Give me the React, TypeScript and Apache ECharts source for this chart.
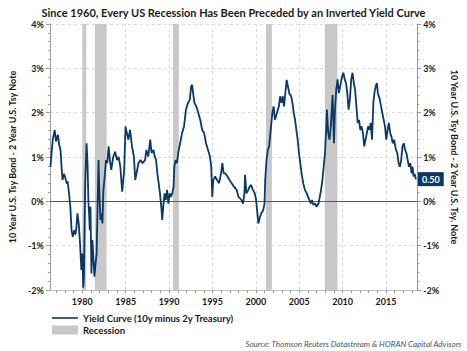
import React, { useEffect, useRef } from 'react';
import * as echarts from 'echarts';

const FONT = 'Lato, "Open Sans", sans-serif';
const NAVY = '#0c3868';

const sampleYears = [
  1976.33, 1976.59, 1976.82, 1976.97, 1977.19, 1977.34, 1977.49, 1977.6, 1977.72, 1977.87,
  1978.02, 1978.2, 1978.31, 1978.47, 1978.62, 1978.76, 1978.91, 1979.06, 1979.21, 1979.33,
  1979.44, 1979.59, 1979.74, 1979.89, 1980.0, 1980.11, 1980.19, 1980.26, 1980.34, 1980.49,
  1980.6, 1980.71, 1980.79, 1980.86, 1980.94, 1981.05, 1981.16, 1981.27, 1981.4, 1981.53,
  1981.65, 1981.76, 1981.87, 1981.98, 1982.1, 1982.21, 1982.32, 1982.43, 1982.58, 1982.73,
  1982.88, 1983.03, 1983.18, 1983.33, 1983.56, 1983.78, 1984.0, 1984.19, 1984.38, 1984.6,
  1984.83, 1984.98, 1985.13, 1985.31, 1985.5, 1985.73, 1985.95, 1986.1, 1986.25, 1986.47,
  1986.7, 1986.93, 1987.23, 1987.38, 1987.6, 1987.83, 1987.98, 1988.2, 1988.35, 1988.5,
  1988.65, 1988.8, 1988.95, 1989.1, 1989.21, 1989.33, 1989.48, 1989.62, 1989.77, 1989.92,
  1990.07, 1990.22, 1990.37, 1990.52, 1990.6, 1990.75, 1990.9, 1991.05, 1991.27, 1991.5,
  1991.72, 1991.95, 1992.17, 1992.39, 1992.54, 1992.66, 1992.77, 1992.92, 1993.14, 1993.37,
  1993.59, 1993.82, 1994.04, 1994.26, 1994.49, 1994.71, 1994.86, 1994.98, 1995.09, 1995.31,
  1995.54, 1995.76, 1995.99, 1996.14, 1996.29, 1996.51, 1996.74, 1996.96, 1997.22, 1997.48,
  1997.78, 1998.01, 1998.35, 1998.53, 1998.68, 1998.76, 1998.91, 1999.13, 1999.28, 1999.43,
  1999.66, 1999.88, 2000.03, 2000.18, 2000.29, 2000.48, 2000.63, 2000.85, 2001.0, 2001.08,
  2001.23, 2001.38, 2001.53, 2001.75, 2001.9, 2002.05, 2002.2, 2002.43, 2002.65, 2002.8,
  2002.95, 2003.1, 2003.25, 2003.4, 2003.55, 2003.7, 2003.85, 2004.07, 2004.22, 2004.37,
  2004.52, 2004.67, 2004.82, 2004.97, 2005.12, 2005.27, 2005.46, 2005.65, 2005.87, 2006.02,
  2006.17, 2006.32, 2006.47, 2006.62, 2006.84, 2006.99, 2007.22, 2007.37, 2007.52, 2007.67,
  2007.82, 2007.97, 2008.12, 2008.19, 2008.34, 2008.49, 2008.64, 2008.79, 2008.85, 2009.0,
  2009.12, 2009.27, 2009.42, 2009.57, 2009.72, 2009.94, 2010.09, 2010.24, 2010.39, 2010.54,
  2010.69, 2010.84, 2010.99, 2011.14, 2011.29, 2011.44, 2011.59, 2011.74, 2011.89, 2012.04,
  2012.19, 2012.34, 2012.49, 2012.64, 2012.79, 2012.94, 2013.09, 2013.24, 2013.39, 2013.54,
  2013.69, 2013.83, 2013.95, 2014.06, 2014.28, 2014.43, 2014.58, 2014.73, 2014.88, 2015.03,
  2015.18, 2015.33, 2015.48, 2015.63, 2015.78, 2015.93, 2016.15, 2016.3, 2016.45, 2016.6,
  2016.75, 2016.9, 2017.05, 2017.2, 2017.35, 2017.5, 2017.65, 2017.8, 2017.95, 2018.06,
  2018.18, 2018.3, 2018.45,
];

const spreadPct = [
  0.78, 1.39, 1.61, 1.35, 1.5, 1.27, 1.16, 0.8, 0.48, 0.62,
  0.55, 0.4, 0.45, 0.18, -0.12, -0.65, -0.8, -0.65, -0.75, -0.57,
  -0.27, -0.5, -0.95, -1.55, -1.18, -1.95, -1.7, -0.6, 0.48, 1.31,
  0.86, -0.05, -0.3, -0.65, -0.12, -1.63, -0.87, -1.25, -1.7, -1.4,
  -1.18, -0.12, 0.93, 0.1, -0.42, -0.27, -0.5, 0.26, 0.56, 0.93,
  0.86, 1.24, 0.93, 0.71, 1.0, 1.12, 0.93, 1.0, 0.78, 0.22,
  0.71, 1.69, 1.54, 1.39, 1.61, 1.24, 1.0, 0.48, 0.63, 0.86,
  0.93, 0.86, 0.93, 1.16, 1.01, 1.39, 1.09, 1.16, 1.01, 0.93,
  0.63, 0.41, 0.18, -0.12, -0.42, -0.12, 0.18, 0.03, 0.26, -0.05,
  0.18, 0.1, 0.18, 0.33, 0.78, 0.93, 0.86, 1.09, 1.31, 1.54,
  1.69, 2.07, 2.22, 2.29, 2.59, 2.63, 2.44, 2.22, 2.14, 1.99,
  1.84, 1.61, 1.54, 1.31, 1.16, 1.01, 0.78, 0.1, 0.48, 0.56,
  0.48, 0.41, 0.63, 0.86, 0.63, 0.63, 0.56, 0.48, 0.41, 0.33,
  0.26, 0.1, 0.03, -0.05, 0.18, 0.6, 0.18, 0.26, 0.33, 0.37,
  0.26, 0.18, 0.03, -0.27, -0.5, -0.35, -0.27, -0.2, -0.05, 0.48,
  0.93, 1.16, 1.24, 1.69, 1.99, 2.14, 1.84, 1.99, 2.14, 2.37,
  2.22, 2.37, 2.14, 2.44, 2.74, 2.59, 2.44, 2.37, 2.22, 1.99,
  1.84, 1.61, 1.39, 1.09, 0.86, 0.63, 0.41, 0.26, 0.18, 0.1,
  0.03, -0.05, 0.03, -0.08, -0.05, -0.12, -0.05, 0.1, 0.26, 0.48,
  0.78, 1.09, 1.69, 2.07, 1.54, 1.39, 1.69, 2.22, 2.4, 1.31,
  2.07, 2.52, 2.75, 2.44, 2.6, 2.82, 2.9, 2.75, 2.67, 2.44,
  2.07, 2.3, 2.75, 2.9, 2.67, 2.52, 2.14, 1.77, 1.84, 1.61,
  1.69, 1.54, 1.24, 1.39, 1.54, 1.69, 1.61, 1.77, 1.39, 2.22,
  2.48, 2.6, 2.67, 2.44, 2.3, 2.14, 1.99, 1.84, 1.69, 1.39,
  1.61, 1.77, 1.54, 1.46, 1.31, 1.39, 1.16, 1.09, 0.86, 0.78,
  0.93, 1.24, 1.31, 1.16, 1.09, 0.93, 0.78, 0.86, 0.63, 0.78,
  0.56, 0.62, 0.5,
];

const recessionStart = [1980.0, 1981.45, 1990.45, 2001.17, 2007.95];
const recessionEnd = [1980.45, 1982.8, 1991.12, 2001.85, 2009.4];
const gridYears = [1980, 1985, 1990, 1995, 2000, 2005, 2010, 2015];

const X_MIN = 1976.26;
const X_MAX = 2018.59;

export default function App() {
  const ref = useRef<HTMLDivElement>(null);
  useEffect(() => {
    const chart = echarts.init(ref.current as HTMLDivElement, null, { renderer: 'svg' });
    const lineData = sampleYears.map((y, i) => [y, spreadPct[i]]);
    const axisLabelStyle = { fontFamily: FONT, fontSize: 9, fontWeight: 'bold' as const, color: '#1a1a1a' };
    const yAxisCommon = {
      type: 'value' as const,
      min: -2,
      max: 4,
      interval: 1,
      axisLine: { show: true, lineStyle: { color: '#9a9a9a', width: 1 } },
      axisTick: { show: true, length: 4, lineStyle: { color: '#9a9a9a' } },
      minorTick: { show: true, splitNumber: 5, length: 2, lineStyle: { color: '#9a9a9a' } },
      axisLabel: { ...axisLabelStyle, formatter: '{value}%', margin: 6 },
      nameLocation: 'middle' as const,
      nameTextStyle: { fontFamily: FONT, fontSize: 9, fontWeight: 'bold' as const, color: '#1a1a1a' },
    };
    const option = {
      animation: false,
      title: {
        text: 'Since 1960, Every US Recession Has Been Preceded by an Inverted Yield Curve',
        left: 'center',
        top: 2,
        textStyle: { fontFamily: FONT, fontSize: 11, fontWeight: 'bold', color: '#1a1a1a' },
      },
      grid: { left: 45, right: 45, top: 24, bottom: 61 },
      legend: {
        orient: 'vertical',
        left: 47,
        top: 308,
        itemWidth: 26,
        itemHeight: 9,
        itemGap: 2,
        textStyle: { fontFamily: FONT, fontSize: 9.5, fontWeight: 'bold', color: '#1a1a1a' },
        data: [
          { name: 'Yield Curve (10y minus 2y Treasury)', icon: 'path://M0,0H26V1.6H0Z' },
          { name: 'Recession', icon: 'rect' },
        ],
      },
      xAxis: {
        type: 'value',
        min: X_MIN,
        max: X_MAX,
        splitNumber: 40,
        minInterval: 1,
        maxInterval: 1,
        axisLine: { show: true, onZero: false, lineStyle: { color: '#bfbfbf' } },
        axisTick: { show: true, length: 3, lineStyle: { color: '#9a9a9a' } },
        axisLabel: {
          ...axisLabelStyle,
          margin: 7,
          showMinLabel: false,
          showMaxLabel: false,
          formatter: (v: number) => (Math.abs(v - Math.round(v)) < 1e-6 && Math.round(v) % 5 === 0 ? String(Math.round(v)) : ''),
        },
        splitLine: { show: false },
      },
      yAxis: [
        {
          ...yAxisCommon,
          position: 'left',
          name: '10 Year U.S. Tsy Bond - 2 Year U.S. Tsy Note',
          nameRotate: 90,
          nameGap: 28,
          splitLine: { show: true, lineStyle: { color: '#d9d9d9', type: [3, 3] } },
        },
        {
          ...yAxisCommon,
          position: 'right',
          name: '10 Year U.S. Tsy Bond - 2 Year U.S. Tsy. Note',
          nameRotate: -90,
          nameGap: 30,
          splitLine: { show: false },
        },
      ],
      series: [
        {
          name: 'Recession',
          type: 'line',
          data: [],
          symbol: 'none',
          itemStyle: { color: '#c8c8c8' },
          lineStyle: { color: '#c8c8c8' },
          z: 1,
          markArea: {
            silent: true,
            z: 1,
            itemStyle: { color: '#c8c8c8' },
            data: recessionStart.map((s, i) => [{ xAxis: s }, { xAxis: recessionEnd[i] }]),
          },
          markLine: {
            silent: true,
            z: 1,
            symbol: 'none',
            label: { show: false },
            lineStyle: { color: '#d9d9d9', type: [3, 3], width: 1 },
            data: gridYears.map((y) => ({ xAxis: y })),
          },
        },
        {
          name: 'Yield Curve (10y minus 2y Treasury)',
          type: 'line',
          data: lineData,
          yAxisIndex: 0,
          symbol: 'none',
          showSymbol: false,
          z: 3,
          itemStyle: { color: NAVY },
          lineStyle: { color: NAVY, width: 1.8 },
          markLine: {
            silent: true,
            z: 2,
            symbol: 'none',
            label: { show: false },
            lineStyle: { color: '#595959', type: 'solid', width: 1 },
            data: [{ yAxis: 0 }],
          },
          endLabel: {
            show: true,
            distance: 2,
            formatter: (p: any) => Number(p.value[1]).toFixed(2),
            backgroundColor: NAVY,
            color: '#ffffff',
            fontFamily: FONT,
            fontSize: 9,
            fontWeight: 'bold',
            padding: [3, 4, 2, 4],
          },
        },
      ],
      graphic: [
        {
          type: 'text',
          right: 5,
          bottom: 3,
          style: {
            text: 'Source: Thomson Reuters Datastream & HORAN Capital Advisors',
            fontFamily: FONT,
            fontSize: 8,
            fontStyle: 'italic',
            fill: '#44546a',
          },
        },
      ],
    };
    chart.setOption(option as any);
    return () => chart.dispose();
  }, []);
  return <div ref={ref} style={{ position: 'fixed', left: 0, top: 0, width: 467, height: 351, background: '#fff' }} />;
}
